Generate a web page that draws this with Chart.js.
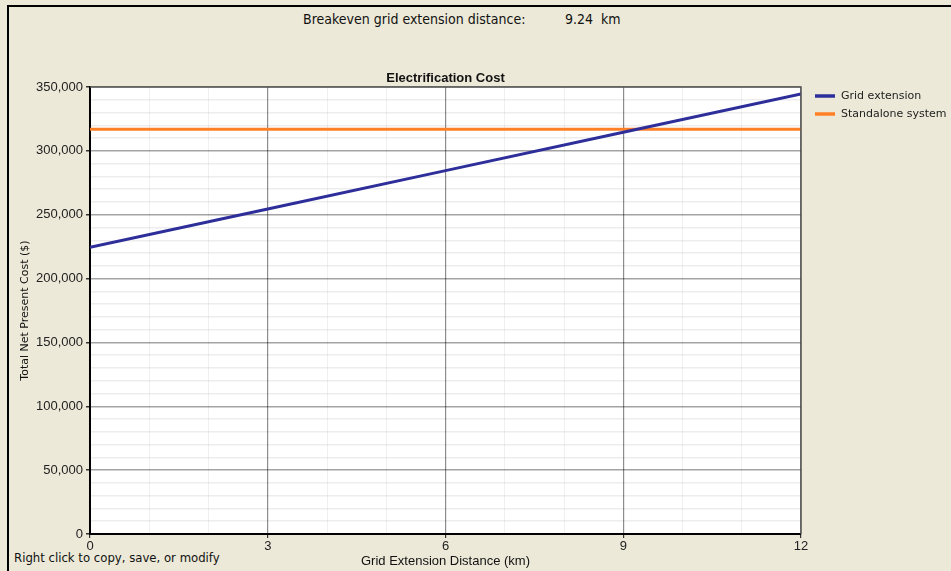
<!DOCTYPE html>
<html>
<head>
<meta charset="utf-8">
<script src="https://cdn.jsdelivr.net/npm/chart.js@4.4.0/dist/chart.umd.min.js"></script>
<style>
  html, body { margin: 0; padding: 0; background: #ECE9D8; overflow: hidden; }
  #frame { position: absolute; left: 7px; top: 5px; width: 960px; height: 580px;
           border-top: 2px solid #000; border-left: 2px solid #000; }
  #wrap { position: absolute; left: 0; top: 0; width: 951px; height: 571px; }
  .txt { position: absolute; font-family: "Liberation Sans Narrow", "DejaVu Sans Condensed", Arial, sans-serif;
         color: #111; white-space: nowrap; }
</style>
</head>
<body>
<div id="frame"></div>
<div class="txt" style="left:303px; top:11px; font-size:14px;">Breakeven grid extension distance:</div>
<div class="txt" style="left:565px; top:11px; font-size:14px;">9.24&nbsp;&nbsp;km</div>
<div class="txt" style="left:14px; top:550px; font-size:13px;">Right click to copy, save, or modify</div>
<div id="wrap"><canvas id="chart_1" width="951" height="571"></canvas></div>
<script>
const distances = [0, 3, 6, 9, 12];
const gridExtension = [224500, 254500, 284500, 314500, 344500];
const standalone = [317000, 317000, 317000, 317000, 317000];
const xTicks = [0, 3, 6, 9, 12];
const yTicks = [0, 50000, 100000, 150000, 200000, 250000, 300000, 350000];
const seriesNames = ["Grid extension", "Standalone system"];

const ctx1 = document.getElementById("chart_1").getContext("2d");

const frameAndText = {
  id: "frameAndText",
  beforeDraw(chart) {
    const c = chart.ctx, a = chart.chartArea;
    c.save();
    c.fillStyle = "#FFFFFF";
    c.fillRect(a.left, a.top, a.right - a.left, a.bottom - a.top);
    c.restore();
  },
  afterDraw(chart) {
    const c = chart.ctx, a = chart.chartArea;
    c.save();
    // top and right frame
    c.strokeStyle = "#555";
    c.lineWidth = 1.5;
    c.beginPath();
    c.moveTo(a.left, a.top);
    c.lineTo(a.right, a.top);
    c.lineTo(a.right, a.bottom);
    c.stroke();
    // title
    c.fillStyle = "#111";
    c.font = "bold 13px 'Liberation Sans Narrow', Arial, sans-serif";
    c.textAlign = "center";
    c.textBaseline = "bottom";
    c.fillText("Electrification Cost", (a.left + a.right) / 2, a.top - 2);
    // legend
    c.font = "11px 'DejaVu Sans', sans-serif";
    c.textAlign = "left";
    c.textBaseline = "middle";
    chart.data.datasets.forEach((ds, i) => {
      const y = a.top + 9 + i * 18;
      c.strokeStyle = ds.borderColor;
      c.lineWidth = 3.5;
      c.beginPath();
      c.moveTo(a.right + 14, y);
      c.lineTo(a.right + 34, y);
      c.stroke();
      c.fillStyle = "#222";
      c.fillText(ds.label, a.right + 40, y);
    });
    c.restore();
  }
};

const myChart1 = new Chart(ctx1, {
  type: "line",
  data: {
    datasets: [
      {
        label: seriesNames[0],
        data: distances.map((d, i) => ({ x: d, y: gridExtension[i] })),
        borderColor: "#2E2E9A",
        borderWidth: 3,
        pointRadius: 0,
        fill: false,
      },
      {
        label: seriesNames[1],
        data: distances.map((d, i) => ({ x: d, y: standalone[i] })),
        borderColor: "#FF7F27",
        borderWidth: 3,
        pointRadius: 0,
        fill: false,
      },
    ],
  },
  options: {
    responsive: false,
    animation: false,
    layout: {
      padding: { left: 10, right: 150, top: 87, bottom: 0 },
    },
    plugins: {
      legend: { display: false },
      title: { display: false },
      tooltip: { enabled: false },
    },
    scales: {
      x: {
        type: "linear",
        min: xTicks[0],
        max: xTicks[xTicks.length - 1],
        afterFit: s => { s.height = 37; },
        ticks: {
          stepSize: 1,
          autoSkip: false,
          maxRotation: 0,
          padding: 1,
          color: "#222",
          font: { family: "'Liberation Sans Narrow', Arial, sans-serif", size: 13 },
          callback: v => (xTicks.includes(v) ? String(v) : ""),
        },
        grid: {
          color: c => (xTicks.includes(c.tick.value) ? "#8C8C8C" : "rgba(0,0,0,0.06)"),
          lineWidth: c => (xTicks.includes(c.tick.value) ? 1.2 : 1),
          tickLength: 4,
          tickColor: c => (xTicks.includes(c.tick.value) ? "#333" : "rgba(0,0,0,0)"),
        },
        border: { color: "#000", width: 2 },
        title: {
          display: true,
          text: "Grid Extension Distance (km)",
          color: "#111",
          font: { family: "'Liberation Sans Narrow', Arial, sans-serif", size: 13 },
          padding: { top: 0, bottom: 2 },
        },
      },
      y: {
        min: yTicks[0],
        max: yTicks[yTicks.length - 1],
        afterFit: s => { s.width = 80; },
        ticks: {
          stepSize: 10000,
          autoSkip: false,
          padding: 3,
          color: "#222",
          font: { family: "Arial, sans-serif", size: 13 },
          callback: v => (yTicks.includes(v) ? v.toLocaleString("en-US") : ""),
        },
        grid: {
          color: c => (yTicks.includes(c.tick.value) ? "rgba(0,0,0,0.36)" : "rgba(0,0,0,0.07)"),
          lineWidth: 1.5,
          tickLength: 4,
          tickColor: c => (yTicks.includes(c.tick.value) ? "#333" : "rgba(0,0,0,0)"),
        },
        border: { color: "#000", width: 2 },
        title: {
          display: true,
          text: "Total Net Present Cost ($)",
          color: "#111",
          font: { family: "'DejaVu Sans', sans-serif", size: 11 },
          padding: { top: 9, bottom: 4 },
        },
      },
    },
  },
  plugins: [frameAndText],
});
</script>
</body>
</html>
